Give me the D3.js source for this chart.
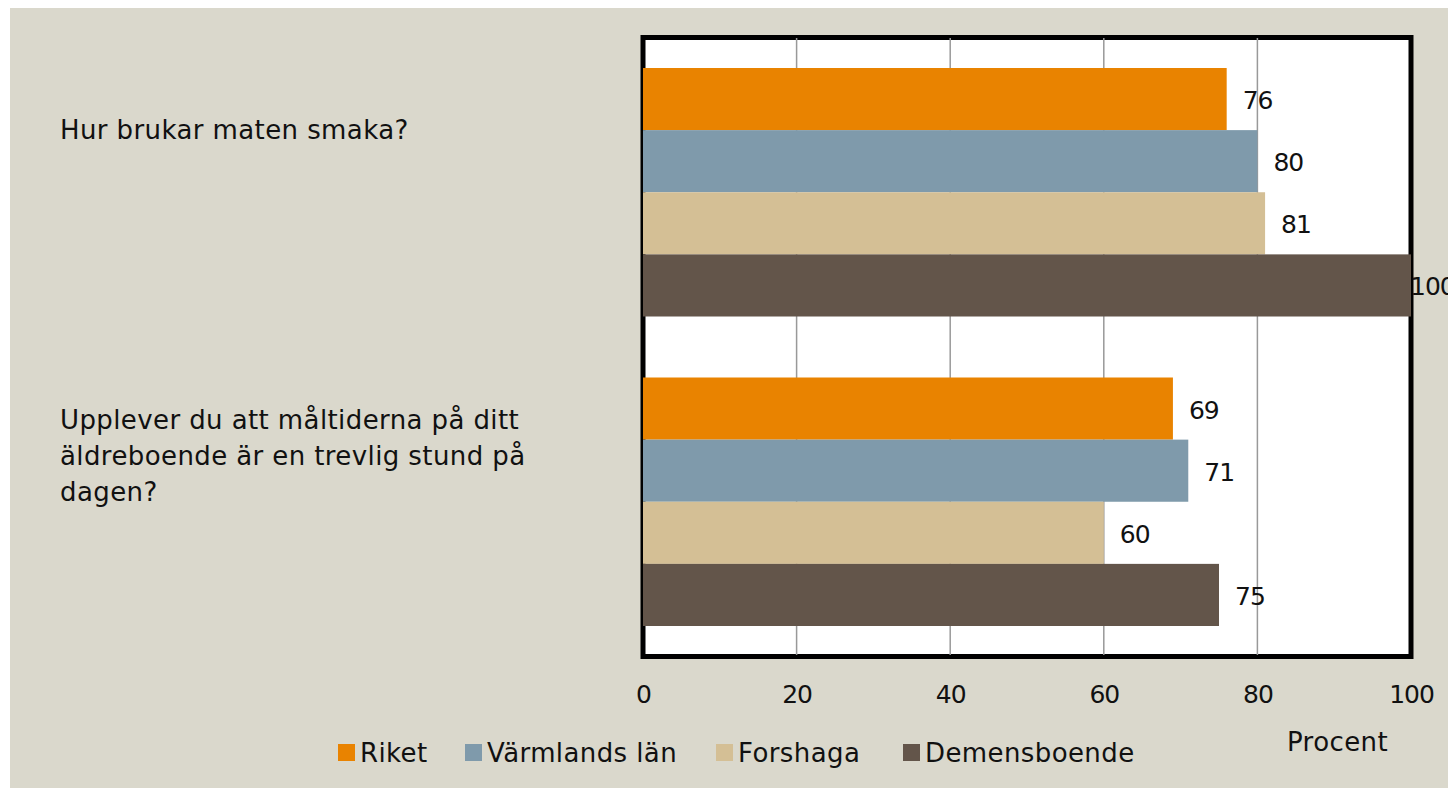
<!DOCTYPE html>
<html><head><meta charset="utf-8">
<script src="https://cdn.jsdelivr.net/npm/d3@7"></script>
<style>
html,body{margin:0;padding:0;background:#fff;}
svg{display:block;}
text{font-family:"DejaVu Sans",sans-serif;fill:#111;}
.wide{font-size:26px;letter-spacing:0.4px;}
.num{font-size:25px;letter-spacing:-1px;}
</style></head>
<body>
<script>
const categories = [
  ["Hur brukar maten smaka?"],
  ["Upplever du att måltiderna på ditt", "äldreboende är en trevlig stund på", "dagen?"]
];
const categoryKeys = ["q1", "q2"];
const seriesNames = ["Riket", "Värmlands län", "Forshaga", "Demensboende"];
const seriesColors = ["#E98300", "#7F9AAB", "#D4BF95", "#63554A"];
const rikeValues = [76, 69];
const varmlandValues = [80, 71];
const forshagaValues = [81, 60];
const demensValues = [100, 75];
const xTicks = [0, 20, 40, 60, 80, 100];
const axisTitle = "Procent";

(function () {
const seriesValues = [rikeValues, varmlandValues, forshagaValues, demensValues];

const W = 1448, H = 788;
const svg = d3.select("body").append("svg").attr("width", W).attr("height", H);
svg.append("rect").attr("x", 10).attr("y", 8).attr("width", W - 10).attr("height", H - 8).attr("fill", "#DAD8CC");

const pL = 643, pR = 1411, pT = 38, pB = 657;
const x = d3.scaleLinear().domain([0, 100]).range([pL, pR]);
const y0 = d3.scaleBand().domain(categoryKeys).range([pT, pB]);
const y1 = d3.scaleBand().domain(seriesNames).range([30, y0.bandwidth() - 31]);

// plot area
svg.append("rect").attr("x", pL).attr("y", pT - 0.5).attr("width", pR - pL).attr("height", pB - pT)
  .attr("fill", "#fff").attr("stroke", "#000").attr("stroke-width", 5);

// gridlines
svg.append("g").selectAll("line").data(xTicks.filter(t => t > 0 && t < 100)).join("line")
  .attr("x1", d => x(d)).attr("x2", d => x(d)).attr("y1", pT).attr("y2", pB - 2)
  .attr("stroke", "#999").attr("stroke-width", 1.5);

// bars
const data = [];
categoryKeys.forEach((c, ci) => seriesNames.forEach((s, si) => data.push({c, s, si, v: seriesValues[si][ci]})));
svg.append("g").selectAll("rect").data(data).join("rect")
  .attr("x", x(0)).attr("y", d => y0(d.c) + y1(d.s)).attr("width", d => x(d.v) - x(0))
  .attr("height", y1.bandwidth()).attr("fill", d => seriesColors[d.si]);

// labels
svg.append("g").selectAll("text").data(data).join("text").attr("class", "num")
  .attr("x", d => Math.min(x(d.v) + 16, pR - 1)).attr("y", d => y0(d.c) + y1(d.s) + y1.bandwidth() / 2 + 10)
  .text(d => d.v);

// x axis labels
const xAxis = d3.axisBottom(x).tickValues(xTicks).tickSize(0).tickPadding(0);
const gx = svg.append("g").attr("transform", `translate(0,${685})`).call(xAxis);
gx.select(".domain").remove();
gx.selectAll("text").attr("class", "num").style("font-size", "25px").style("font-family", '"DejaVu Sans",sans-serif').attr("fill", "#111");

svg.append("text").attr("class", "wide").attr("x", 1287).attr("y", 751).text(axisTitle);

// category labels
const catY = [139, 429];
categories.forEach((lines, i) => {
  const t = svg.append("text").attr("class", "wide").attr("x", 60).attr("y", catY[i]);
  lines.forEach((l, li) => t.append("tspan").attr("x", 60).attr("dy", li === 0 ? 0 : 36).text(l));
});

// legend
const legX = [338, 465, 716, 903];
const lg = svg.append("g");
seriesNames.forEach((s, i) => {
  lg.append("rect").attr("x", legX[i]).attr("y", 744).attr("width", 17).attr("height", 17).attr("fill", seriesColors[i]);
  lg.append("text").attr("class", "wide").attr("x", legX[i] + 22).attr("y", 762).text(s);
});
})();
</script>
</body></html>
